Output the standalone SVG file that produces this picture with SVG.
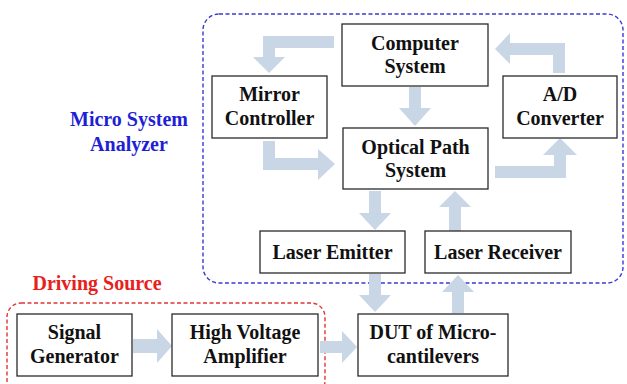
<svg xmlns="http://www.w3.org/2000/svg" width="627" height="384" viewBox="0 0 627 384">
<style>
.box{fill:#fff;stroke:#2a2a2a;stroke-width:1.3}
.t{font-family:"Liberation Serif","Times New Roman",serif;font-weight:bold;font-size:20px;fill:#111;text-anchor:middle}
.arr{fill:#c9d6e6;stroke:none}
.lbl{font-family:"Liberation Serif","Times New Roman",serif;font-weight:bold;font-size:20px;text-anchor:middle}
</style>
<rect width="627" height="384" fill="#fff"/>
<g id="micro-system-analyzer">
<rect x="203" y="14" width="420" height="269" rx="16" fill="none" stroke="#3a3ad0" stroke-width="1.4" stroke-dasharray="4 2.5"/>
<text class="lbl" x="129" y="126" fill="#1f1fd6">Micro System</text>
<text class="lbl" x="129" y="151" fill="#1f1fd6">Analyzer</text>
</g>
<g id="driving-source">
<rect x="7" y="303" width="318" height="92" rx="14" fill="none" stroke="#e03535" stroke-width="1.4" stroke-dasharray="4 2.5"/>
<text class="lbl" x="97" y="290" fill="#e8201a">Driving Source</text>
</g>
<g id="connectors">
<path class="arr" d="M334,36 L263,36 L263,57 L253,57 L269,73 L285,57 L275,57 L275,48 L334,48 Z"/>
<path class="arr" d="M409,87 L421,87 L421,108 L431,108 L415,126 L399,108 L409,108 Z"/>
<path class="arr" d="M263,141 L275,141 L275,158 L318,158 L318,149 L335,164 L318,180 L318,170 L263,170 Z"/>
<path class="arr" d="M495,166 L554,166 L554,155 L543,155 L560,138 L577,155 L566,155 L566,178 L495,178 Z"/>
<path class="arr" d="M565,73 L553,73 L553,55 L510,55 L510,64 L495,49 L510,33 L510,43 L565,43 Z"/>
<path class="arr" d="M369,191 L381,191 L381,213 L391,213 L375,230 L359,213 L369,213 Z"/>
<path class="arr" d="M449,231 L449,207 L439,207 L455,191 L471,207 L461,207 L461,231 Z"/>
<path class="arr" d="M369,274 L381,274 L381,295 L391,295 L375,312 L359,295 L369,295 Z"/>
<path class="arr" d="M452,313 L452,292 L442,292 L458,275 L474,292 L464,292 L464,313 Z"/>
<path class="arr" d="M133,339 L157,339 L157,329 L172,346 L157,363 L157,353 L133,353 Z"/>
<path class="arr" d="M320,341 L342,341 L342,331 L357,347 L342,363 L342,353 L320,353 Z"/>
</g>
<g id="computer-system">
<rect class="box" x="342" y="24" width="146" height="62"/>
<text class="t" x="415" y="50">Computer</text>
<text class="t" x="415" y="73">System</text>
</g>
<g id="mirror-controller">
<rect class="box" x="212" y="76" width="115" height="62"/>
<text class="t" x="269.5" y="101">Mirror</text>
<text class="t" x="269.5" y="125">Controller</text>
</g>
<g id="ad-converter">
<rect class="box" x="503" y="76" width="114" height="62"/>
<text class="t" x="560" y="101">A/D</text>
<text class="t" x="560" y="125">Converter</text>
</g>
<g id="optical-path-system">
<rect class="box" x="343" y="128" width="145" height="61"/>
<text class="t" x="415.5" y="154">Optical Path</text>
<text class="t" x="415.5" y="177">System</text>
</g>
<g id="laser-emitter">
<rect class="box" x="260" y="231" width="145" height="42"/>
<text class="t" x="332.5" y="259">Laser Emitter</text>
</g>
<g id="laser-receiver">
<rect class="box" x="425" y="231" width="146" height="42"/>
<text class="t" x="498" y="259">Laser Receiver</text>
</g>
<g id="signal-generator">
<rect class="box" x="17" y="314" width="115" height="62"/>
<text class="t" x="74.5" y="339">Signal</text>
<text class="t" x="74.5" y="363">Generator</text>
</g>
<g id="high-voltage-amplifier">
<rect class="box" x="172" y="314" width="146" height="62"/>
<text class="t" x="245" y="339">High Voltage</text>
<text class="t" x="245" y="363">Amplifier</text>
</g>
<g id="dut">
<rect class="box" x="358" y="314" width="150" height="62"/>
<text class="t" x="433" y="339">DUT of Micro-</text>
<text class="t" x="433" y="363">cantilevers</text>
</g>
</svg>
